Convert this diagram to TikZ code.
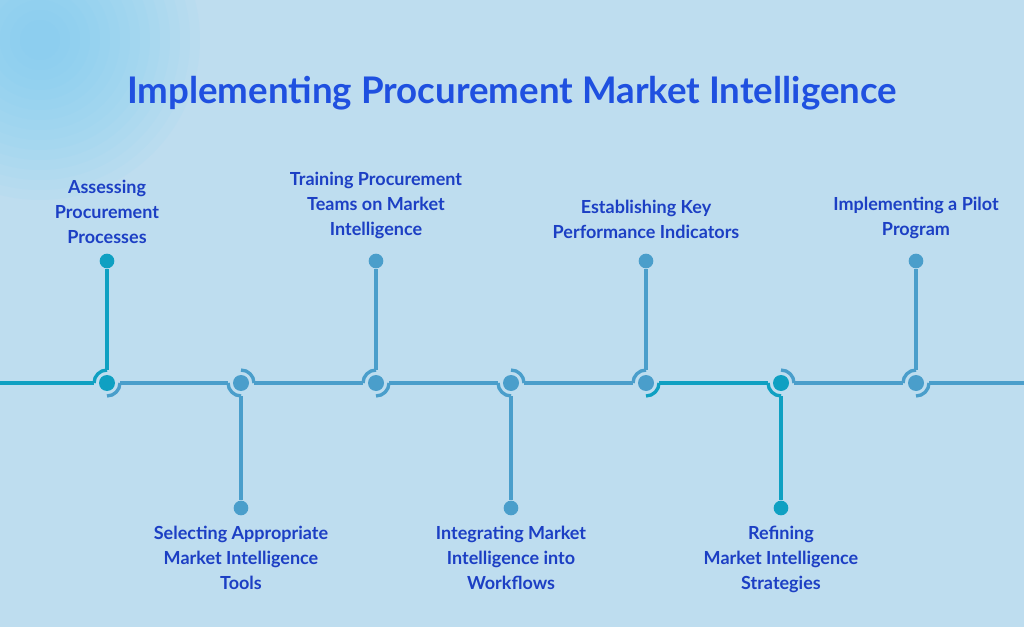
\documentclass[tikz,border=0pt]{standalone}
\usepackage{fontspec}
\setmainfont{Lato}
\usetikzlibrary{positioning,calc}
\definecolor{bgblue}{HTML}{BEDDEF}
\definecolor{glow}{HTML}{6CCDF5}
\definecolor{tealc}{HTML}{0FA0C2}
\definecolor{bluec}{HTML}{4A9ECB}
\definecolor{titleblue}{HTML}{1F50E0}
\definecolor{textblue}{HTML}{1C3FC4}
\tikzset{
  dot/.style={circle, fill=#1, inner sep=0pt, minimum size=12},
  lbl/.style={align=center, text=textblue, inner sep=0pt, font=\bfseries\fontsize{13.5}{18.75}\selectfont},
  wire/.style={line width=2.5pt, draw=#1}
}
\begin{document}
\begin{tikzpicture}[x=0.75pt,y=-0.75pt]
  \useasboundingbox (0,0) rectangle (1024,627);
  % background
  \begin{scope}
    \clip (0,0) rectangle (1024,627);
    \fill[bgblue] (0,0) rectangle (1024,627);
    \foreach \r in {160,150,...,20}
      \fill[glow, opacity=0.05] (40,40) circle[radius=\r];
  \end{scope}

  % title
  \node[text=titleblue, font=\bfseries\fontsize{27.5}{32}\selectfont] (title) at (512,93)
    {Implementing Procurement Market Intelligence};

  % markers: x / up(-1) or down(1) / colour
  \foreach \x/\d/\c [count=\i] in {107/-1/tealc,241/1/bluec,376/-1/bluec,511/1/bluec,646/-1/bluec,781/1/tealc,916/-1/bluec}{
    \node[dot=\c] (m\i) at (\x,383) {};
    \coordinate (L\i) at (\x-13,383);
    \coordinate (R\i) at (\x+13,383);
    \coordinate (V\i) at (\x,383+13*\d);
    \node[dot=\c, minimum size=11] (e\i) at (\x,{384.5+123.5*\d}) {};
    \draw[wire=\c] (V\i) -- (e\i);
  }
  % arcs, upward markers
  \foreach \i/\c/\cr in {1/tealc/bluec,3/bluec/bluec,5/bluec/tealc,7/bluec/bluec}{
    \draw[wire=\c] (L\i) arc[start angle=180, end angle=270, radius=13];
    \draw[wire=\cr] ($(m\i)+(0,13)$) arc[start angle=90, end angle=0, radius=13];
  }
  % arcs, downward markers
  \foreach \i/\c/\cr in {2/bluec/bluec,4/bluec/bluec,6/tealc/bluec}{
    \draw[wire=\c] (L\i) arc[start angle=180, end angle=90, radius=13];
    \draw[wire=\cr] ($(m\i)+(0,-13)$) arc[start angle=270, end angle=360, radius=13];
  }
  % horizontal line
  \coordinate (start) at (0,383);
  \coordinate (stop) at (1024,383);
  \draw[wire=tealc] (start) -- (L1);
  \foreach \a/\b/\c in {1/2/bluec,2/3/bluec,3/4/bluec,4/5/bluec,5/6/tealc,6/7/bluec}
    \draw[wire=\c] (R\a) -- (L\b);
  \draw[wire=bluec] (R7) -- (stop);

  % labels
  \node[lbl, above=7pt of e1] (t1) {Assessing\\Procurement\\Processes};
  \node[lbl, above=11pt of e3] (t3) {Training Procurement\\Teams on Market\\Intelligence};
  \node[lbl, above=11pt of e5] (t5) {Establishing Key\\Performance Indicators};
  \node[lbl, above=11pt of e7] (t7) {Implementing a Pilot\\Program};
  \node[lbl, below=8pt of e2] (t2) {Selecting Appropriate\\Market Intelligence\\Tools};
  \node[lbl, below=8pt of e4] (t4) {Integrating Market\\Intelligence into\\Workflows};
  \node[lbl, below=8pt of e6] (t6) {Refining\\Market Intelligence\\Strategies};
\end{tikzpicture}
\end{document}
